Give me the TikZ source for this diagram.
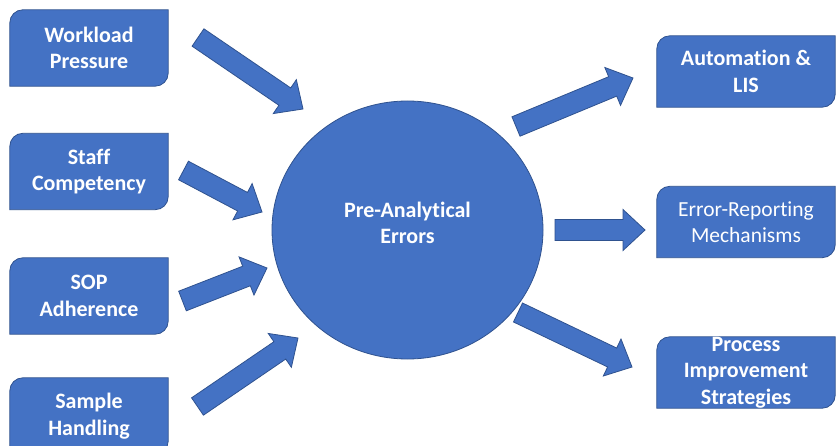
\documentclass[tikz,border=0pt]{standalone}
\usepackage{fontspec}
\setmainfont[Ligatures=NoCommon]{Carlito}
\usetikzlibrary{calc,backgrounds,shapes.geometric}

\definecolor{officeblue}{HTML}{4472C4}
\definecolor{officeedge}{HTML}{2F528F}

\tikzset{
  shapefill/.style={fill=officeblue, draw=officeedge, line width=0.8pt},
  boxnode/.style={minimum width=178pt, minimum height=71pt, inner sep=0pt,
    text=white, align=center, font=\fontsize{22}{26.5}\selectfont\bfseries},
  leftbox/.style={boxnode, minimum width=158pt, minimum height=76pt},
  plainbox/.style={boxnode, font=\fontsize{21.5}{26}\selectfont},
  hubnode/.style={ellipse, shapefill, minimum width=271pt, minimum height=258pt,
    inner sep=0pt},
  hubtext/.style={text=white, align=center, inner sep=0pt,
    font=\fontsize{22}{25.5}\selectfont\bfseries},
}

% Rectangle with the top-left and bottom-right corners rounded,
% drawn behind the node that is named in the argument
\newcommand\diagbox[1]{%
  \begin{scope}[on background layer]
    \path[shapefill] (#1.south west) -- ([yshift=-13pt]#1.north west)
      arc[start angle=180, end angle=90, radius=13pt] -- (#1.north east)
      -- ([yshift=13pt]#1.south east)
      arc[start angle=0, end angle=-90, radius=13pt] -- cycle;
  \end{scope}}

% Broad block arrow from a tail coordinate to a tip coordinate
\newcommand\blockarrow[2]{%
  \coordinate (hb) at ($(#2)!22pt!(#1)$);
  \path[shapefill] ($(#1)!10.5pt!90:(#2)$) -- ($(hb)!10.5pt!90:(#2)$)
    -- ($(hb)!20.5pt!90:(#2)$) -- (#2) -- ($(hb)!20.5pt!-90:(#2)$)
    -- ($(hb)!10.5pt!-90:(#2)$) -- ($(#1)!10.5pt!-90:(#2)$) -- cycle;}

\begin{document}
\begin{tikzpicture}[x=1pt, y=1pt]
  \clip (0,0) rectangle (840,445);
  \begin{scope}[on background layer]
    \fill[white] (0,0) rectangle (840,445);
  \end{scope}

  % causes on the left
  \node[leftbox] (workload) at (89,397) {Workload\\Pressure};
  \node[leftbox] (staff) at (89,273.5) {Staff\\Competency};
  \node[leftbox] (sop) at (89,149) {SOP\\Adherence};
  \node[leftbox] (sample) at (89,29) {Sample\\Handling};
  \diagbox{workload}
  \diagbox{staff}
  \diagbox{sop}
  \diagbox{sample}

  % central topic
  \node[hubnode] (pae) at (407.5,215) {};
  \node[hubtext] (paetext) at ([yshift=7pt]pae.center) {Pre-Analytical\\Errors};

  % responses on the right
  \node[boxnode] (auto) at (746,373.5) {Automation \&\\LIS};
  \node[plainbox] (report) at (746,223) {Error-Reporting\\Mechanisms};
  \node[boxnode] (process) at (746,72.5) {Process\\Improvement\\Strategies};
  \diagbox{auto}
  \diagbox{report}
  \diagbox{process}

  % arrow end points
  \coordinate (t1) at (198,407.5);  \coordinate (h1) at (303,336);
  \coordinate (t2) at (183.5,274.5); \coordinate (h2) at (262,233);
  \coordinate (t3) at (182.5,144);  \coordinate (h3) at (267,177);
  \coordinate (t4) at (197.5,38.5); \coordinate (h4) at (298,107);
  \coordinate (t5) at (516,318.5);  \coordinate (h5) at (633,367);
  \coordinate (t6) at (555,215);    \coordinate (h6) at (645,215);
  \coordinate (t7) at (518,132.5);  \coordinate (h7) at (632,78);

  \blockarrow{t1}{h1}
  \blockarrow{t2}{h2}
  \blockarrow{t3}{h3}
  \blockarrow{t4}{h4}
  \blockarrow{t5}{h5}
  \blockarrow{t6}{h6}
  \blockarrow{t7}{h7}
\end{tikzpicture}
\end{document}
